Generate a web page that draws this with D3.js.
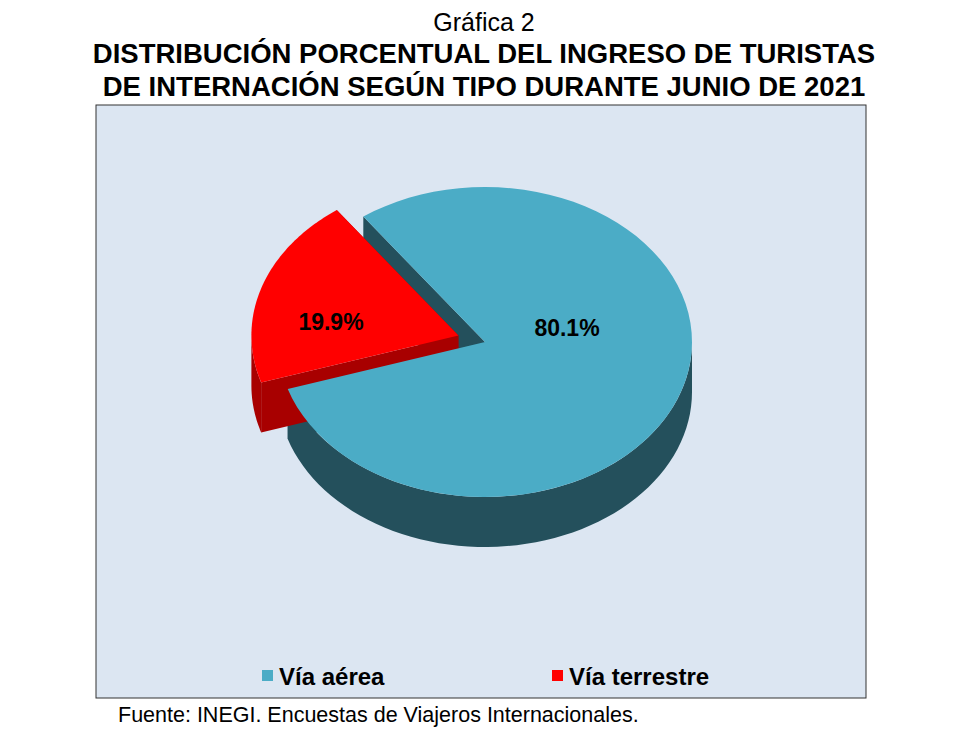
<!DOCTYPE html><html><head><meta charset="utf-8">
<script src="https://cdn.jsdelivr.net/npm/d3@7"></script>
<style>body{margin:0;background:#fff}</style></head><body>
<script>
const categories=["Vía aérea","Vía terrestre"];
const values=[80.1,19.9];
const labels=["80.1%","19.9%"];
const topColors=["#4bacc6","#ff0000"];
const sideColors=["#24505c","#a80000"];
const W=968,H=751;
const svg=d3.select("body").append("svg").attr("width",W).attr("height",H).style("font-family","'Liberation Sans',Arial,sans-serif");
svg.append("text").attr("x",484).attr("y",31).attr("text-anchor","middle").attr("font-size",25).text("Gráfica 2");
svg.append("text").attr("x",484).attr("y",63).attr("text-anchor","middle").attr("font-size",27.5).attr("font-weight","bold").text("DISTRIBUCIÓN PORCENTUAL DEL INGRESO DE TURISTAS");
svg.append("text").attr("x",484).attr("y",96).attr("text-anchor","middle").attr("font-size",27.5).attr("font-weight","bold").text("DE INTERNACIÓN SEGÚN TIPO DURANTE JUNIO DE 2021");
svg.append("rect").attr("x",96).attr("y",105).attr("width",770).attr("height",593).attr("fill","#dce6f2").attr("stroke","#333").attr("stroke-width",1);
svg.append("text").attr("x",118).attr("y",722).attr("font-size",21.5).text("Fuente: INEGI. Encuestas de Viajeros Internacionales.");

const cx=485,cy=342,rx=207,ry=155,depth=50;
const startAngle=-36/180*Math.PI;
const pie=d3.pie().sort(null).startAngle(startAngle).endAngle(startAngle+2*Math.PI);
const arcs=pie(values);
const explode=[0,28];
const P=(t,dx,dy,z)=>[cx+dx+rx*Math.sin(t),cy+dy-ry*Math.cos(t)+z];
function slicePath(a0,a1,dx,dy,z){const pts=[[cx+dx,cy+dy+z]];const n=80;for(let i=0;i<=n;i++)pts.push(P(a0+(a1-a0)*i/n,dx,dy,z));return d3.line()(pts)+"Z";}
function sidePath(a0,a1,dx,dy){const lo=Math.max(a0,Math.PI/2),hi=Math.min(a1,3*Math.PI/2);if(hi<=lo)return null;const n=60,top=[],bot=[];for(let i=0;i<=n;i++){const t=lo+(hi-lo)*i/n;top.push(P(t,dx,dy,0));bot.push(P(t,dx,dy,depth));}return d3.line()(top.concat(bot.reverse()))+"Z";}
function wall(t,dx,dy){const c=[cx+dx,cy+dy],e=P(t,dx,dy,0);return d3.line()([c,e,[e[0],e[1]+depth],[c[0],c[1]+depth]])+"Z";}
const layers=[svg.append("g"),svg.append("g"),svg.append("g")];
arcs.forEach((a,i)=>{
  const a0=a.startAngle,a1=a.endAngle;
  const mid=(a0+a1)/2;const dx=explode[i]*Math.sin(mid),dy=-explode[i]*Math.cos(mid)*ry/rx;
  const base=i===0?layers[0]:layers[1];
  let b0=((a0%(2*Math.PI))+2*Math.PI)%(2*Math.PI),b1=b0+(a1-a0);
  if(i===0){base.append("path").attr("d",wall(a0,dx,dy)).attr("fill",sideColors[i]);base.append("path").attr("d",wall(a1,dx,dy)).attr("fill",sideColors[i]);}
  [[b0,b1],[b0-2*Math.PI,b1-2*Math.PI]].forEach(([s,e])=>{const p=sidePath(s,e,dx,dy);if(p)base.append("path").attr("d",p).attr("fill",sideColors[i]);});
  if(i===1){base.append("path").attr("d",wall(a0,dx,dy)).attr("fill",sideColors[i]);base.append("path").attr("d",wall(a1,dx,dy)).attr("fill",sideColors[i]);}
  layers[2].append("path").attr("d",slicePath(a0,a1,dx,dy,0)).attr("fill",topColors[i]);
});
const lpos=[[567,336],[331,330]];
labels.forEach((l,i)=>svg.append("text").attr("x",lpos[i][0]).attr("y",lpos[i][1]).attr("text-anchor","middle").attr("font-size",23).attr("font-weight","bold").text(l));
const lx=[262,552];
categories.forEach((c,i)=>{svg.append("rect").attr("x",lx[i]).attr("y",670).attr("width",11).attr("height",11).attr("fill",topColors[i]);
svg.append("text").attr("x",lx[i]+17).attr("y",685).attr("font-size",24).attr("font-weight","bold").text(c);});
</script></body></html>
